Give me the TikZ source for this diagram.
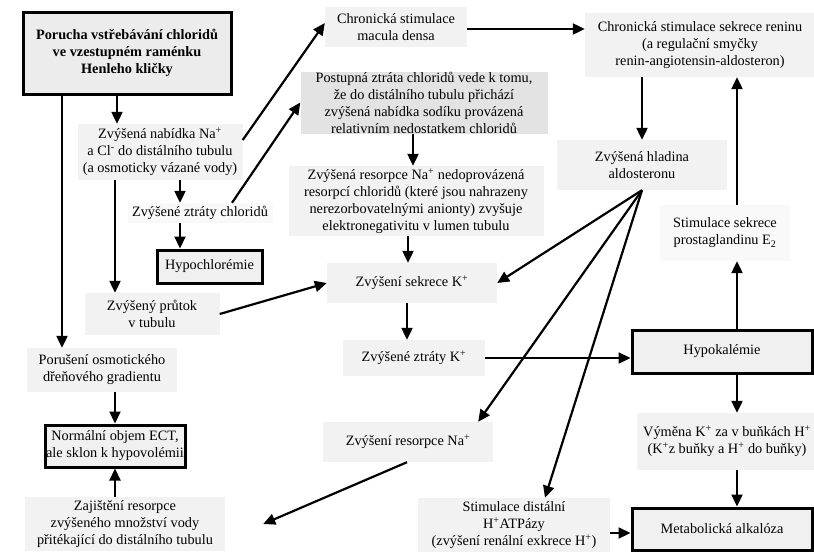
\documentclass[tikz,border=0pt]{standalone}
\usepackage{fontspec}
\setmainfont{Liberation Serif}
\usetikzlibrary{arrows.meta}
\tikzset{
  txt/.style={align=center, inner sep=0pt, fill=gray!10, font=\fontsize{14.3}{17}\selectfont},
  sz/.style n args={2}{minimum width=#1pt, minimum height=#2pt},
  thickbox/.style={txt, draw=black, line width=3pt, fill=gray!12},
  arr/.style={-{Triangle[length=12pt,width=11pt]}, line width=2.2pt},
}
\begin{document}
\begin{tikzpicture}[x=1pt,y=-1pt]
\useasboundingbox (0,0) rectangle (814,552);
\fill[white] (0,0) rectangle (814,552);
% left column
\node[thickbox, sz={208}{82}, fill=gray!15, font=\fontsize{14.3}{17}\selectfont\bfseries] (porucha) at (127,53) {Porucha vstřebávání chloridů\\ve vzestupném raménku\\Henleho kličky};
\node[txt, sz={165}{56}] (nab) at (160,152) {Zvýšená nabídka Na\textsuperscript{+}\\a Cl\textsuperscript{-} do distálního tubulu\\(a osmoticky vázané vody)};
\node[txt, sz={145}{20}, fill=gray!5] (ztrCl) at (200,213) {Zvýšené ztráty chloridů};
\node[thickbox, sz={105}{33}] (hypoCl) at (209.5,266.5) {Hypochlorémie};
\node[txt, sz={135}{42}] (prutok) at (152,314) {Zvýšený průtok\\v tubulu};
\node[txt, sz={150}{44}] (poruseni) at (102,370) {Porušení osmotického\\dřeňového gradientu};
\node[thickbox, sz={140}{42}] (normal) at (115,446) {Normální objem ECT,\\ale sklon k hypovolémii};
\node[txt, sz={200}{54}] (zajist) at (125,524) {Zajištění resorpce\\zvýšeného množství vody\\přitékající do distálního tubulu};
% middle column
\node[txt, sz={142}{40}] (macula) at (396,27) {Chronická stimulace\\macula densa};
\node[txt, sz={247}{62}, fill=gray!22] (postup) at (424,102.5) {Postupná ztráta chloridů vede k tomu,\\že do distálního tubulu přichází\\zvýšená nabídka sodíku provázená\\relativním nedostatkem chloridů};
\node[txt, sz={255}{70}] (zvysres) at (416,201) {Zvýšená resorpce Na\textsuperscript{+} nedoprovázená\\resorpcí chloridů (které jsou nahrazeny\\nerezorbovatelnými anionty) zvyšuje\\elektronegativitu v lumen tubulu};
\node[txt, sz={170}{40}] (sekK) at (412,283) {Zvýšení sekrece K\textsuperscript{+}};
\node[txt, sz={142}{36}] (ztrK) at (414,358) {Zvýšené ztráty K\textsuperscript{+}};
\node[txt, sz={170}{40}] (resNa) at (408,442) {Zvýšení resorpce Na\textsuperscript{+}};
\node[txt, sz={192}{54}] (hatp) at (514,525) {Stimulace distální\\H\textsuperscript{+}ATPázy\\(zvýšení renální exkrece H\textsuperscript{+})};
% right column
\node[txt, sz={230}{64}] (renin) at (700,45) {Chronická stimulace sekrece reninu\\(a regulační smyčky\\renin-angiotensin-aldosteron)};
\node[txt, sz={170}{50}] (aldo) at (642,165) {Zvýšená hladina\\aldosteronu};
\node[txt, sz={130}{56}, fill=gray!5] (prosta) at (725,233) {Stimulace sekrece\\prostaglandinu E\textsubscript{2}};
\node[thickbox, sz={180}{43}] (hypoK) at (722,351.5) {Hypokalémie};
\node[txt, sz={180}{57}] (vymena) at (727,441.5) {Výměna K\textsuperscript{+} za v buňkách H\textsuperscript{+}\\(K\textsuperscript{+}z buňky a H\textsuperscript{+} do buňky)};
\node[thickbox, sz={180}{42}] (metab) at (722,529) {Metabolická alkalóza};
% connectors
\draw[arr] ([xshift=-10pt]porucha.south) -- ([xshift=-43pt]nab.north);
\draw[arr] ([xshift=-65pt]porucha.south) -- ([xshift=-40pt]poruseni.north);
\draw[arr] ([xshift=-45pt]nab.south) -- ([xshift=-37pt]prutok.north);
\draw[arr] ([xshift=20pt]nab.south) -- ([xshift=-20pt]ztrCl.north);
\draw[arr] ([xshift=-20pt]ztrCl.south) -- ([xshift=-29.5pt]hypoCl.north);
\draw[arr] ([yshift=12pt]nab.east) -- ([yshift=4pt]macula.west);
\draw[arr] ([xshift=32pt]ztrCl.north) -- (postup.west);
\draw[arr] (prutok.east) -- (sekK.west);
\draw[arr] ([xshift=13pt]poruseni.south) -- (normal.north);
\draw[arr] ([xshift=-10pt]zajist.north) -- (normal.south);
\draw[arr] ([xshift=-1pt]resNa.south) -- ([xshift=38pt]zajist.east);
\draw[arr] ([yshift=-2pt]macula.east) -- ([yshift=-2pt]macula.east -| renin.west);
\draw[arr] ([xshift=-11pt]postup.south) -- ([xshift=-3pt]zvysres.north);
\draw[arr] ([xshift=-8pt]zvysres.south) -- ([xshift=-4pt]sekK.north);
\draw[arr] ([xshift=-5pt]sekK.south) -- ([xshift=-7pt]ztrK.north);
\draw[arr] (ztrK.east) -- (ztrK.east -| hypoK.west);
\draw[arr] ([xshift=-58pt]renin.south) -- (aldo.north);
\draw[arr] (aldo.south) -- (sekK.east);
\draw[arr] (aldo.south) -- ([xshift=-15pt]resNa.north east);
\draw[arr] (aldo.south) -- ([xshift=31pt]hatp.north);
\draw[arr] ([xshift=12pt]prosta.north) -- ([xshift=12pt]prosta.north |- renin.south);
\draw[arr] ([xshift=15pt]hypoK.north) -- ([xshift=12pt]prosta.south);
\draw[arr] ([xshift=15pt]hypoK.south) -- ([xshift=10pt]vymena.north);
\draw[arr] ([xshift=10pt]vymena.south) -- ([xshift=15pt]metab.north);
\draw[arr] ([yshift=-8pt]hatp.east) -- ([yshift=-8pt]hatp.east -| metab.west);
\end{tikzpicture}
\end{document}
